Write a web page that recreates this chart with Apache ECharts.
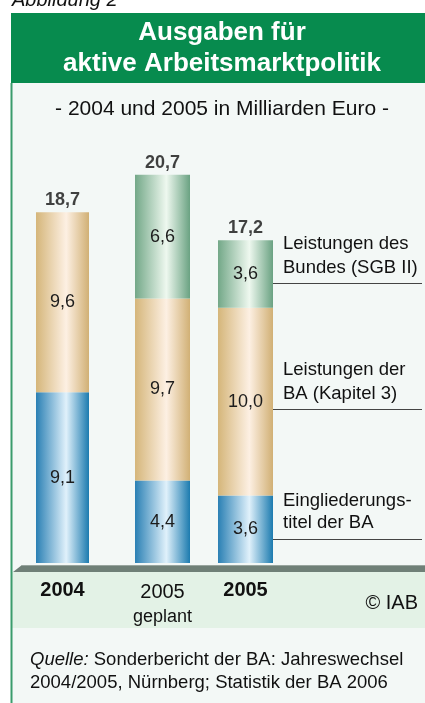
<!DOCTYPE html>
<html>
<head>
<meta charset="utf-8">
<script src="https://cdn.jsdelivr.net/npm/echarts@6/dist/echarts.min.js"></script>
<style>
  html, body { margin: 0; padding: 0; background: #fff; }
  #chart { width: 425px; height: 703px; }
</style>
</head>
<body>
<div id="chart"></div>
<script>
// data
const years = ['2004', '2005', '2005'];
const yearNotes = ['', 'geplant', ''];
const yearBold = [true, false, true];
const eingliederung = [9.1, 4.4, 3.6];   // Eingliederungstitel der BA
const leistungenBA = [9.6, 9.7, 10.0];    // Leistungen der BA (Kapitel 3)
const leistungenBund = [null, 6.6, 3.6];  // Leistungen des Bundes (SGB II)
const totals = [18.7, 20.7, 17.2];
const seriesNames = ['Eingliederungstitel der BA', 'Leistungen der BA (Kapitel 3)', 'Leistungen des Bundes (SGB II)'];
const annotations = ['Leistungen des\nBundes (SGB II)', 'Leistungen der\nBA (Kapitel 3)', 'Eingliederungs-\ntitel der BA'];

const FONT = '"Liberation Sans", Arial, sans-serif';
const chart = echarts.init(document.getElementById('chart'), null, { renderer: 'canvas' });

function fmt(v) {
  return v.toFixed(1).replace('.', ',');
}

function grad(dark, light, dark2) {
  return new echarts.graphic.LinearGradient(0, 0, 1, 0, [
    { offset: 0, color: dark },
    { offset: 0.57, color: light },
    { offset: 1, color: dark2 }
  ]);
}

const segColors = [
  grad('#2a80b4', '#e0f1fb', '#1c7baf'),
  grad('#d5b67a', '#fdf0e3', '#d1b075'),
  grad('#73a888', '#eef8ef', '#6aa282')
];
const segData = [eingliederung, leistungenBA, leistungenBund];

// one grid per column, so the gaps can differ as in the original
const gridPos = [
  { left: 36, width: 53 },
  { left: 135, width: 55 },
  { left: 218, width: 55 }
];

const grids = [], xAxes = [], yAxes = [], series = [];
years.forEach(function (y, i) {
  grids.push({ left: gridPos[i].left, width: gridPos[i].width, top: 94, height: 469 });
  xAxes.push({
    type: 'category', gridIndex: i, data: [y],
    axisLine: { show: false }, axisTick: { show: false },
    axisLabel: {
      margin: 16,
      formatter: function (v) {
        const main = yearBold[i] ? '{b|' + v + '}' : '{n|' + v + '}';
        return yearNotes[i] ? main + '\n{s|' + yearNotes[i] + '}' : main;
      },
      rich: {
        b: { fontFamily: FONT, fontSize: 20, fontWeight: 'bold', color: '#111', lineHeight: 22 },
        n: { fontFamily: FONT, fontSize: 20, color: '#111', lineHeight: 26 },
        s: { fontFamily: FONT, fontSize: 18, color: '#111', lineHeight: 24 }
      }
    }
  });
  yAxes.push({ type: 'value', gridIndex: i, min: 0, max: 25, show: false });
  segData.forEach(function (arr, k) {
    series.push({
      name: seriesNames[k],
      type: 'bar',
      xAxisIndex: i, yAxisIndex: i,
      stack: 'col' + i,
      barWidth: gridPos[i].width,
      data: [arr[i] == null ? '-' : arr[i]],
      itemStyle: { color: segColors[k] },
      label: {
        show: true, position: 'inside',
        fontFamily: FONT, fontSize: 18, color: '#1c1c1c',
        formatter: function (p) { return fmt(p.value); }
      }
    });
  });
  series.push({
    type: 'scatter',
    xAxisIndex: i, yAxisIndex: i,
    symbolSize: 0,
    data: [totals[i]],
    label: {
      show: true, position: 'top', distance: 3,
      fontFamily: FONT, fontSize: 18, fontWeight: 'bold', color: '#111',
      formatter: function (p) { return fmt(p.value); }
    }
  });
});

const graphics = [
  // panel background
  { type: 'rect', z: -5, shape: { x: 12, y: 83, width: 413, height: 620 }, style: { fill: '#f3f8f6' } },
  { type: 'rect', z: -4, shape: { x: 12, y: 572, width: 413, height: 56 }, style: { fill: '#e3f2e6' } },
  { type: 'rect', z: -3, shape: { x: 10.5, y: 83, width: 2, height: 620 }, style: { fill: '#3b9c6c' } },
  // floor
  { type: 'polygon', z: 5, shape: { points: [[22, 565], [425, 565], [425, 572], [13, 572]] }, style: { fill: '#6f8077' } },
  { type: 'line', z: 6, shape: { x1: 22, y1: 565.5, x2: 425, y2: 565.5 }, style: { stroke: '#98a59e', lineWidth: 1 } },
  // header
  { type: 'rect', z: 1, shape: { x: 11, y: 13, width: 414, height: 70 }, style: { fill: '#078b4e' } },
  {
    type: 'text', z: 2, x: 222, y: 17,
    style: {
      text: 'Ausgaben für\naktive Arbeitsmarktpolitik',
      fill: '#fff', font: 'bold 26px ' + FONT, lineHeight: 31, align: 'center', verticalAlign: 'top'
    }
  },
  {
    type: 'text', z: 2, x: 12, y: 10,
    style: { text: 'Abbildung 2', fill: '#111', font: 'italic 20px ' + FONT, align: 'left', verticalAlign: 'bottom' }
  },
  {
    type: 'text', z: 2, x: 222, y: 109,
    style: { text: '- 2004 und 2005 in Milliarden Euro -', fill: '#111', font: '21px ' + FONT, align: 'center', verticalAlign: 'middle' }
  },
  // annotations
  { type: 'text', z: 2, x: 283, y: 232, style: { text: annotations[0], fill: '#111', font: '18.5px ' + FONT, lineHeight: 24, verticalAlign: 'top' } },
  { type: 'text', z: 2, x: 283, y: 358, style: { text: annotations[1], fill: '#111', font: '18.5px ' + FONT, lineHeight: 24, verticalAlign: 'top' } },
  { type: 'text', z: 2, x: 283, y: 490, style: { text: annotations[2], fill: '#111', font: '18.5px ' + FONT, lineHeight: 22, verticalAlign: 'top' } },
  { type: 'line', z: 2, shape: { x1: 272, y1: 283.5, x2: 422, y2: 283.5 }, style: { stroke: '#444', lineWidth: 1 } },
  { type: 'line', z: 2, shape: { x1: 272, y1: 409.5, x2: 422, y2: 409.5 }, style: { stroke: '#444', lineWidth: 1 } },
  { type: 'line', z: 2, shape: { x1: 272, y1: 539.5, x2: 422, y2: 539.5 }, style: { stroke: '#444', lineWidth: 1 } },
  // copyright + source
  { type: 'text', z: 2, x: 418, y: 603, style: { text: '© IAB', fill: '#111', font: '20px ' + FONT, align: 'right', verticalAlign: 'middle' } },
  {
    type: 'text', z: 2, x: 30, y: 648,
    style: {
      text: '{i|Quelle:} Sonderbericht der BA: Jahreswechsel\n2004/2005, Nürnberg; Statistik der BA 2006',
      fill: '#111', font: '18.5px ' + FONT, lineHeight: 23, verticalAlign: 'top',
      rich: { i: { fontStyle: 'italic', fontFamily: FONT, fontSize: 18.5, fill: '#111', lineHeight: 23 } }
    }
  }
];

chart.setOption({
  animation: false,
  backgroundColor: '#fff',
  grid: grids,
  xAxis: xAxes,
  yAxis: yAxes,
  series: series,
  graphic: graphics
});
</script>
</body>
</html>
